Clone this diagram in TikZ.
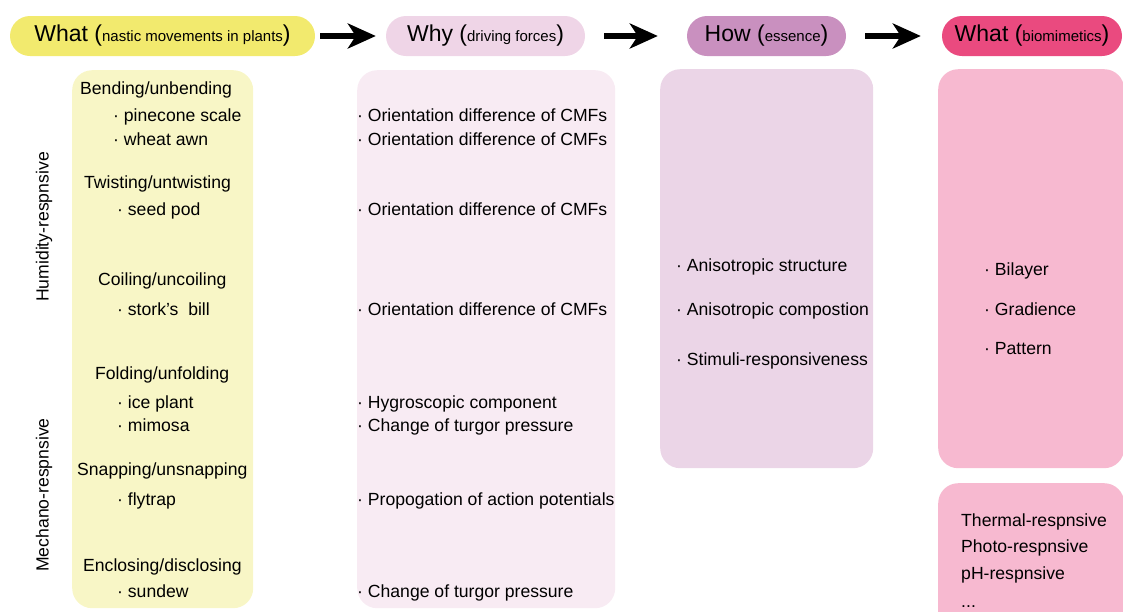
\documentclass[tikz,border=0pt]{standalone}
\usepackage{fontspec}
\setmainfont{Liberation Sans}
\usetikzlibrary{
  arrows.meta,
  positioning
}
\definecolor{plantpill}{HTML}{F2EA6E}
\definecolor{plantpanel}{HTML}{F8F6C6}
\definecolor{forcepill}{HTML}{EFD5E7}
\definecolor{forcepanel}{HTML}{F8EBF3}
\definecolor{essencepill}{HTML}{C990BF}
\definecolor{essencepanel}{HTML}{EBD5E7}
\definecolor{mimicpill}{HTML}{EA4A7F}
\definecolor{mimicpanel}{HTML}{F7B9D0}
\tikzset{
  % For the rounded headline pills.
  pill/.style={
    rounded corners=20pt,
    minimum height=40pt,
    inner sep=0pt,
    font=\fontsize{23}{27}\selectfont},
%
  % For the big rounded panels below the pills.
  panel/.style={
    rounded corners=20pt,
    inner sep=0pt,
    anchor=north west},
%
  % For the list entries inside the panels.
  entry/.style={
    anchor=base west,
    inner sep=0pt,
    font=\fontsize{17.6}{21}\selectfont},
%
  % For the rotated group labels at the left.
  group/.style={
    rotate=90,
    inner sep=0pt,
    font=\fontsize{17.6}{21}\selectfont},
%
  % For thick arrows between the pills.
  flow/.style={
    line width=6pt,
    -{Stealth[length=28pt, width=25pt, inset=8pt]}}
}
% Small text inside the pills.
\newcommand*{\aside}[1]{{\fontsize{15}{18}\selectfont #1}}

\begin{document}
\begin{tikzpicture}[x=1pt, y=-1pt]
  \useasboundingbox (0,0) rectangle (1123,611);

  % Headline pills and the arrows between them.
  \node[pill, fill=plantpill, minimum width=305pt] (what) at (162.5,36)
    {What (\aside{nastic movements in plants})};
  \node[pill, fill=forcepill, minimum width=199pt] (why) at (485.5,36)
    {Why (\aside{driving forces})};
  \node[pill, fill=essencepill, minimum width=159pt] (how) at (766.5,36)
    {How (\aside{essence})};
  \node[pill, fill=mimicpill, minimum width=180pt] (mimic) at (1032,36)
    {What (\aside{biomimetics})};

  \draw[flow, shorten <=5pt, shorten >=10pt] (what) -- (why);
  \draw[flow, shorten <=19pt, shorten >=29pt] (why) -- (how);
  \draw[flow, shorten <=19pt, shorten >=21pt] (how) -- (mimic);

  % Panels.
  \node[panel, fill=plantpanel, minimum width=181pt, minimum height=538pt]
    (plants) at (72,70) {};
  \node[panel, fill=forcepanel, minimum width=258pt, minimum height=538pt]
    (forces) at (357,70) {};
  \node[panel, fill=essencepanel, minimum width=213pt, minimum height=399pt]
    (essence) at (660,69) {};
  \node[panel, fill=mimicpanel, minimum width=186pt, minimum height=399pt]
    (mimics) at (938,69) {};
  \node[panel, fill=mimicpanel, minimum width=186pt, minimum height=160pt]
    (stimuli) at (938,483) {};

  % Group labels.
  \node[group] (humidity) at (44,227) {Humidity-respnsive};
  \node[group] (mechano) at (44,495) {Mechano-respnsive};

  % Movements of the plants.
  \foreach \x/\y/\t [count=\i] in {
      80/94/{Bending/unbending},
      84/188/{Twisting/untwisting},
      98/285/{Coiling/uncoiling},
      95/379/{Folding/unfolding},
      77/475/{Snapping/unsnapping},
      83/571/{Enclosing/disclosing}}
    {\node[entry] (move\i) at (\x,\y) {\t};}

  \foreach \x/\y/\t [count=\i] in {
      113/121/pinecone scale,
      113/145/wheat awn,
      117/215/seed pod,
      117/315/stork’s\ \ bill,
      117/408/ice plant,
      117/431/mimosa,
      117/505/flytrap,
      117/597/sundew}
    {\node[entry] (plant\i) at (\x,\y) {·\ \t};}

  % Driving forces.
  \foreach \y/\t [count=\i] in {
      121/Orientation difference of CMFs,
      145/Orientation difference of CMFs,
      215/Orientation difference of CMFs,
      315/Orientation difference of CMFs,
      408/Hygroscopic component,
      431/Change of turgor pressure,
      505/Propogation of action potentials,
      597/Change of turgor pressure}
    {\node[entry] (force\i) at (357,\y) {·\ \t};}

  % Essence.
  \foreach \y/\t [count=\i] in {
      271/Anisotropic structure,
      315/Anisotropic compostion,
      365/Stimuli-responsiveness}
    {\node[entry] (essence\i) at (676,\y) {·\ \t};}

  % Biomimetics.
  \foreach \y/\t [count=\i] in {
      275/Bilayer,
      315/Gradience,
      354/Pattern}
    {\node[entry] (mimic\i) at (984,\y) {·\ \t};}

  \foreach \y/\t [count=\i] in {
      526/Thermal-respnsive,
      552/Photo-respnsive,
      579/pH-respnsive}
    {\node[entry] (stimulus\i) at (961,\y) {\t};}
  \node[entry] (stimulus4) at (961,607) {...};
\end{tikzpicture}
\end{document}
